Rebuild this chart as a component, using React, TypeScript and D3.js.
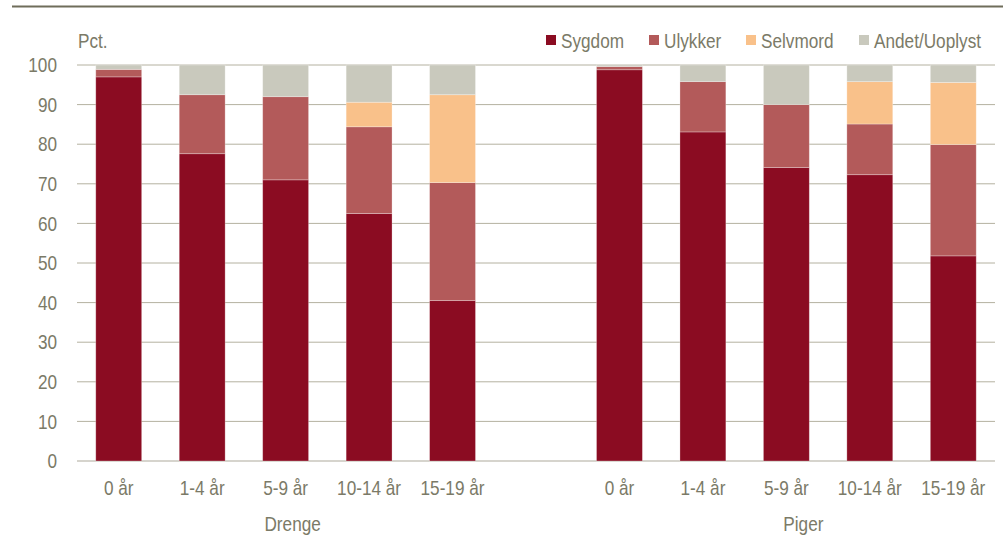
import React from "react";
import * as d3 from "d3";

const ages = ["0 år", "1-4 år", "5-9 år", "10-14 år", "15-19 år"];
const groups = ["Drenge", "Piger"];
const causes = ["Sygdom", "Ulykker", "Selvmord", "Andet/Uoplyst"];
const causeColors = ["#8B0C22", "#B35A5A", "#F9C18A", "#C9C9BD"];
const yTicks = [0, 10, 20, 30, 40, 50, 60, 70, 80, 90, 100];

const drengeSygdom = [97.0, 77.6, 71.0, 62.5, 40.5];
const drengeUlykker = [1.9, 14.9, 21.0, 21.9, 29.8];
const drengeSelvmord = [0, 0, 0, 6.2, 22.2];
const drengeAndet = [1.1, 7.5, 8.0, 9.4, 7.5];

const pigerSygdom = [98.8, 83.1, 74.1, 72.3, 51.8];
const pigerUlykker = [0.8, 12.7, 15.9, 12.8, 28.1];
const pigerSelvmord = [0, 0, 0, 10.7, 15.7];
const pigerAndet = [0.4, 4.2, 10.0, 4.2, 4.4];

const W = 1006;
const H = 540;
const FONT = "'Liberation Sans Narrow', 'Arial Narrow', 'Liberation Sans', Arial, sans-serif";
const TEXT = "#7B7A67";
const SQUEEZE = 0.86;

type Row = { key: string; group: string; age: string; [k: string]: any };

const rows: Row[] = [];
ages.forEach((a, i) =>
  rows.push({
    key: "D" + i,
    group: groups[0],
    age: a,
    Sygdom: drengeSygdom[i],
    Ulykker: drengeUlykker[i],
    Selvmord: drengeSelvmord[i],
    "Andet/Uoplyst": drengeAndet[i],
  })
);
const slots = [...rows.map((r) => r.key), "gap"];
ages.forEach((a, i) => {
  rows.push({
    key: "P" + i,
    group: groups[1],
    age: a,
    Sygdom: pigerSygdom[i],
    Ulykker: pigerUlykker[i],
    Selvmord: pigerSelvmord[i],
    "Andet/Uoplyst": pigerAndet[i],
  });
  slots.push("P" + i);
});

function Txt(props: { x: number; y: number; anchor?: string; dy?: string; children: React.ReactNode }) {
  return (
    <text
      transform={`translate(${props.x},${props.y}) scale(${SQUEEZE},1)`}
      textAnchor={props.anchor || "start"}
      dy={props.dy}
      fontSize={20}
      fill={TEXT}
    >
      {props.children}
    </text>
  );
}

export default function App() {
  const left = 77;
  const right = 995;
  const top = 65;
  const bottom = 461;

  const x = d3
    .scaleBand<string>()
    .domain(slots)
    .range([left, right])
    .paddingInner(0.45)
    .paddingOuter(0.225);
  const y = d3.scaleLinear().domain([0, 100]).range([bottom, top]);

  const stack = d3.stack<Row>().keys(causes);
  const series = stack(rows);

  const groupCenter = (g: string) => {
    const ks = rows.filter((r) => r.group === g).map((r) => x(r.key)! + x.bandwidth() / 2);
    return d3.mean(ks)!;
  };
  const groupOffsets = [7, 17];

  const legendX = [546, 649, 746, 859];

  return (
    <svg
      width={W}
      height={H}
      style={{ position: "absolute", left: 0, top: 0, background: "#fff" }}
      fontFamily={FONT}
    >
      <line x1={12} x2={1003} y1={6.5} y2={6.5} stroke="#6F6D5A" strokeWidth={2} />

      {yTicks.map((t) => (
        <g key={t}>
          <line
            x1={left}
            x2={right}
            y1={y(t)}
            y2={y(t)}
            stroke={t === 0 ? "#C8C6BC" : "#B4B1A0"}
            strokeWidth={t === 0 ? 1.5 : 1}
          />
          <Txt x={57} y={y(t)} dy="0.36em" anchor="end">
            {t}
          </Txt>
        </g>
      ))}

      <Txt x={78} y={48}>Pct.</Txt>

      {series.map((s, si) => (
        <g key={s.key} fill={causeColors[si]}>
          {s.map((d) =>
            d[1] - d[0] > 0 ? (
              <rect
                key={d.data.key}
                x={x(d.data.key)}
                width={x.bandwidth()}
                y={y(d[1])}
                height={y(d[0]) - y(d[1])}
                stroke="#ffffff"
                strokeOpacity={0.35}
                strokeWidth={0.8}
              />
            ) : null
          )}
        </g>
      ))}

      {rows.map((r) => (
        <Txt key={"l" + r.key} x={x(r.key)! + x.bandwidth() / 2} y={495} anchor="middle">
          {r.age}
        </Txt>
      ))}

      {groups.map((g, gi) => (
        <Txt key={g} x={groupCenter(g) + groupOffsets[gi]} y={531} anchor="middle">
          {g}
        </Txt>
      ))}

      {causes.map((c, i) => (
        <g key={c}>
          <rect x={legendX[i]} y={35} width={10} height={10} fill={causeColors[i]} />
          <Txt x={legendX[i] + 15} y={48}>{c}</Txt>
        </g>
      ))}
    </svg>
  );
}
